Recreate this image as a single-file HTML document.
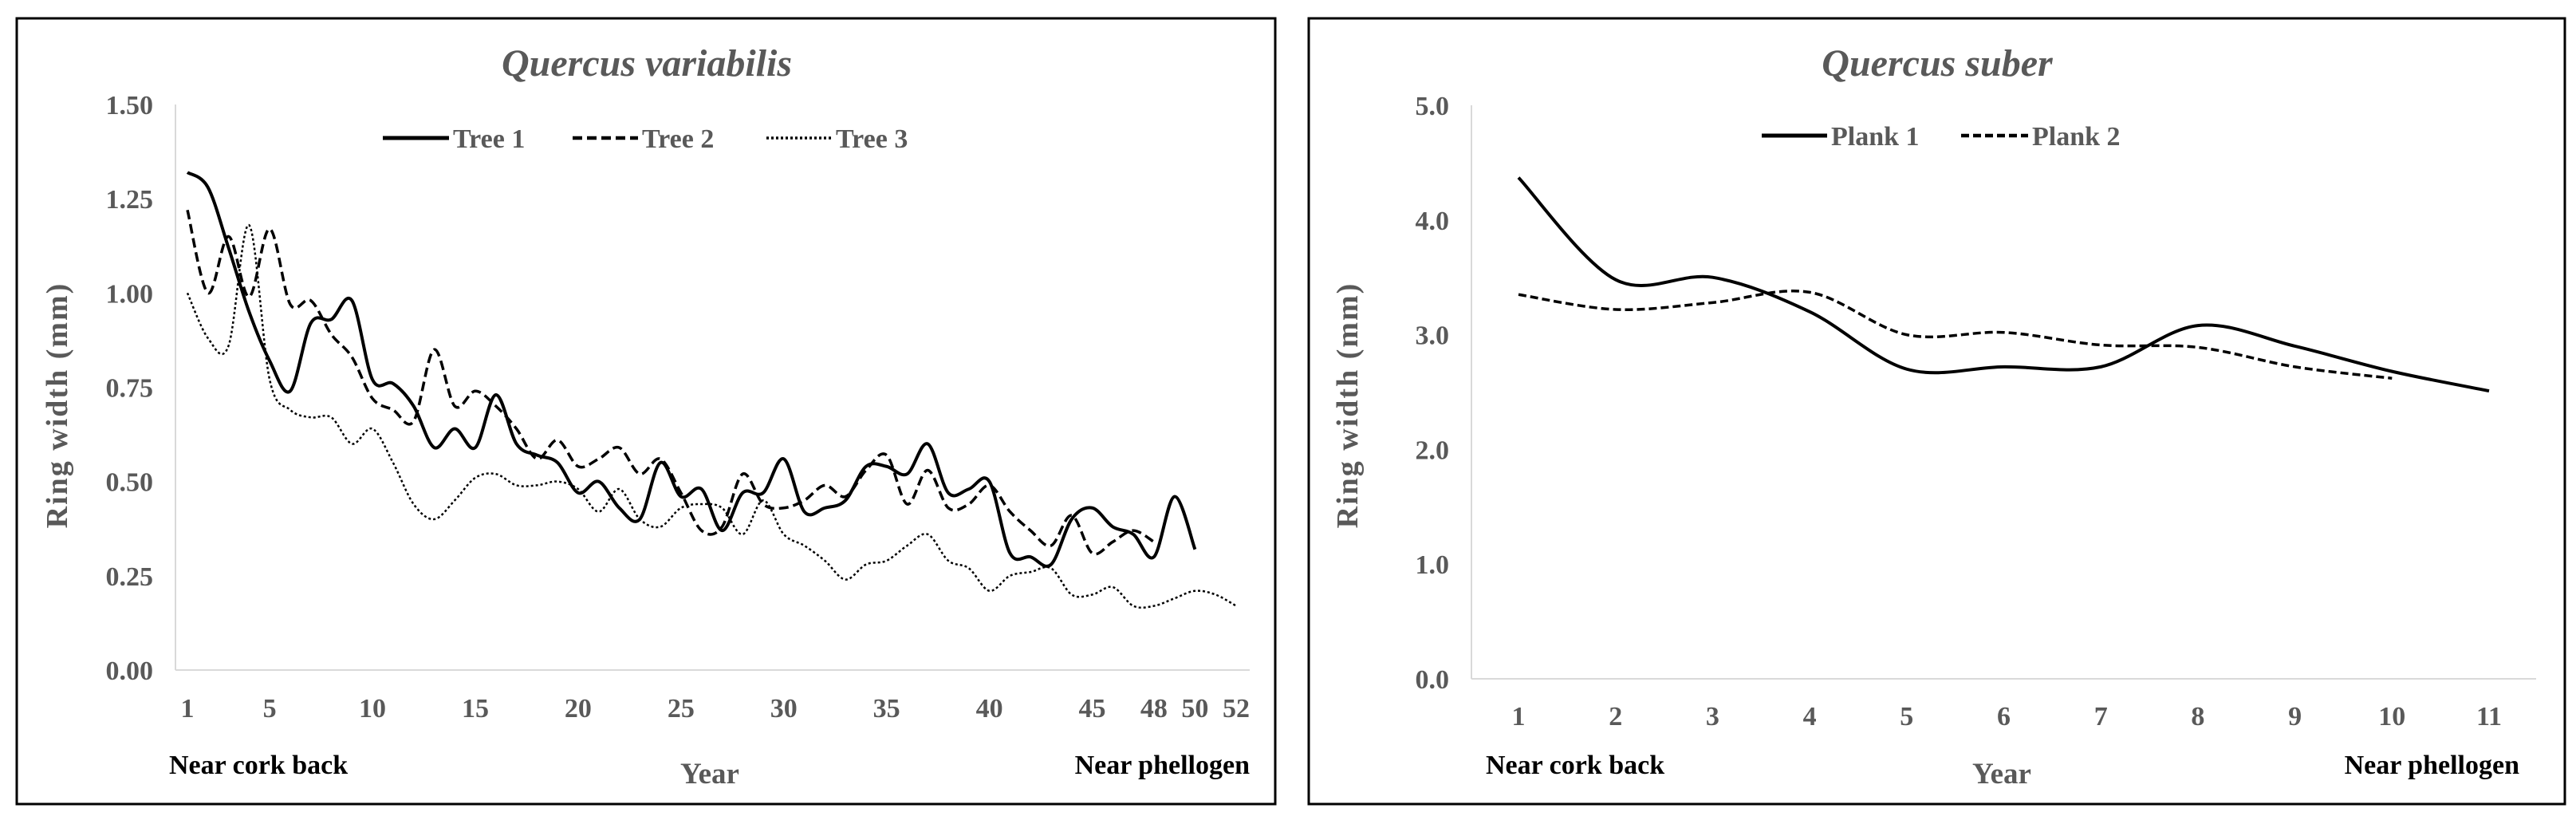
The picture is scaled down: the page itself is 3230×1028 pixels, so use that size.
<!DOCTYPE html>
<html><head><meta charset="utf-8"><style>
body{margin:0;background:#fff;}
svg text{font-family:"Liberation Serif",serif;fill:#595959;}
</style></head><body>
<svg width="3230" height="1023" viewBox="0 0 3230 1023" xmlns="http://www.w3.org/2000/svg">
<rect x="21" y="23" width="1578" height="985" fill="none" stroke="#000" stroke-width="3"/>
<rect x="1641" y="23" width="1575" height="985" fill="none" stroke="#000" stroke-width="3"/>
<g id="L"></g>
<g id="R"></g>
</svg>
<script>
const leftYTicks=["0.00","0.25","0.50","0.75","1.00","1.25","1.50"];
const leftYVals=[0,0.25,0.5,0.75,1,1.25,1.5];
const leftXTicks=[1,5,10,15,20,25,30,35,40,45,48,50,52];
const tree1=[1.32,1.28,1.12,0.95,0.82,0.74,0.92,0.93,0.98,0.77,0.76,0.70,0.59,0.64,0.59,0.73,0.60,0.57,0.55,0.47,0.50,0.43,0.40,0.55,0.46,0.48,0.37,0.47,0.47,0.56,0.42,0.43,0.45,0.54,0.54,0.52,0.60,0.47,0.48,0.50,0.31,0.30,0.28,0.40,0.43,0.38,0.36,0.30,0.46,0.32];
const tree2=[1.22,1.00,1.15,0.99,1.17,0.97,0.98,0.89,0.83,0.72,0.69,0.66,0.85,0.70,0.74,0.70,0.64,0.56,0.61,0.54,0.56,0.59,0.52,0.56,0.47,0.37,0.38,0.52,0.44,0.43,0.45,0.49,0.46,0.53,0.57,0.44,0.53,0.43,0.44,0.49,0.42,0.37,0.33,0.41,0.31,0.34,0.37,0.34];
const tree3=[1.00,0.88,0.86,1.18,0.77,0.69,0.67,0.67,0.60,0.64,0.55,0.44,0.40,0.45,0.51,0.52,0.49,0.49,0.50,0.48,0.42,0.48,0.40,0.38,0.43,0.44,0.43,0.36,0.45,0.36,0.33,0.29,0.24,0.28,0.29,0.33,0.36,0.29,0.27,0.21,0.25,0.26,0.27,0.20,0.20,0.22,0.17,0.17,0.19,0.21,0.20,0.17];
const rightYTicks=["0.0","1.0","2.0","3.0","4.0","5.0"];
const rightYVals=[0,1,2,3,4,5];
const rightXTicks=[1,2,3,4,5,6,7,8,9,10,11];
const plank1=[4.37,3.48,3.50,3.20,2.70,2.72,2.72,3.08,2.90,2.68,2.51];
const plank2=[3.35,3.22,3.28,3.37,3.00,3.02,2.91,2.89,2.72,2.62];
const NS="http://www.w3.org/2000/svg";
function mk(parent,tag,attrs,txt){const e=document.createElementNS(NS,tag);for(const k in attrs)e.setAttribute(k,attrs[k]);if(txt!==undefined)e.textContent=txt;parent.appendChild(e);return e;}
function smooth(pts){let d="M"+pts[0][0]+","+pts[0][1];for(let i=0;i<pts.length-1;i++){const p0=pts[i-1]||pts[i],p1=pts[i],p2=pts[i+1],p3=pts[i+2]||p2;const t=6;d+=" C"+(p1[0]+(p2[0]-p0[0])/t)+","+(p1[1]+(p2[1]-p0[1])/t)+" "+(p2[0]-(p3[0]-p1[0])/t)+","+(p2[1]-(p3[1]-p1[1])/t)+" "+p2[0]+","+p2[1];}return d;}
function chart(g,c){
 const x=i=>c.x1+(i-1)*(c.xN-c.x1)/(c.nCat-1);
 const y=v=>c.y0-(v/c.ymax)*(c.y0-c.yTop);
 let e;
 e=mk(g,"line",{x1:c.axL,x2:c.axL,y1:c.yTop,y2:c.y0,stroke:"#d9d9d9","stroke-width":2});
 
 e=mk(g,"line",{x1:c.axL,x2:c.axR,y1:c.y0,y2:c.y0,stroke:"#d9d9d9","stroke-width":2});
 
 c.yVals.forEach((v,i)=>{e=mk(g,"text",{x:c.axL-28,y:y(v)+12,"text-anchor":"end","font-size":34,"font-weight":"bold"},c.yTicks[i]);
  });
 c.xTicks.forEach(t=>{e=mk(g,"text",{x:x(t),y:c.xLabY,"text-anchor":"middle","font-size":34,"font-weight":"bold"},String(t));
  });
 c.series.forEach(s=>{const pts=s.data.map((v,i)=>[x(i+1),y(v)]);
  e=mk(g,"path",{d:smooth(pts),fill:"none",stroke:"#000","stroke-width":s.w,"stroke-dasharray":s.dash,"stroke-linejoin":"round"});
  
  e=mk(g,"line",{x1:s.lx1,x2:s.lx2,y1:c.legY,y2:c.legY,stroke:"#000","stroke-width":s.w+1,"stroke-dasharray":s.dash});
  
  e=mk(g,"text",{x:s.lx2+5,y:c.legY+12,"font-size":34,"font-weight":"bold"},s.label);
  });
 e=mk(g,"text",{x:c.titleX,y:95,"text-anchor":"middle","font-size":48,"font-weight":"bold","font-style":"italic"},c.title);
 
 e=mk(g,"text",{x:c.yLabX,y:508,"text-anchor":"middle","font-size":38,"font-weight":"bold",transform:"rotate(-90 "+c.yLabX+" 508)","letter-spacing":"2"},"Ring width (mm)");
 
 e=mk(g,"text",{x:c.nearL,y:970,"font-size":34,"font-weight":"bold",style:"fill:#000"},"Near cork back");
 
 e=mk(g,"text",{x:c.yearX,y:982,"text-anchor":"middle","font-size":37,"font-weight":"bold"},"Year");
 
 e=mk(g,"text",{x:c.nearR,y:970,"text-anchor":"end","font-size":34,"font-weight":"bold",style:"fill:#000"},"Near phellogen");
 
}
chart(document.getElementById("L"),{x1:235,xN:1550,nCat:52,axL:220,axR:1567,y0:840,yTop:131,ymax:1.5,yTicks:leftYTicks,yVals:leftYVals,xTicks:leftXTicks,xLabY:899,legY:173,titleX:811,yLabX:84,nearL:212,yearX:890,nearR:1567,title:"Quercus variabilis",
 series:[{name:"tree-1",label:"Tree 1",data:tree1,w:4,dash:"",lx1:480,lx2:563},{name:"tree-2",label:"Tree 2",data:tree2,w:3.5,dash:"12 6",lx1:718,lx2:800},{name:"tree-3",label:"Tree 3",data:tree3,w:2.5,dash:"3 3",lx1:961,lx2:1043}]});
chart(document.getElementById("R"),{x1:1904,xN:3121,nCat:11,axL:1845,axR:3180,y0:851,yTop:132,ymax:5,yTicks:rightYTicks,yVals:rightYVals,xTicks:rightXTicks,xLabY:909,legY:170,titleX:2429,yLabX:1702,nearL:1863,yearX:2510,nearR:3159,title:"Quercus suber",
 series:[{name:"plank-1",label:"Plank 1",data:plank1,w:4,dash:"",lx1:2209,lx2:2291},{name:"plank-2",label:"Plank 2",data:plank2,w:3.5,dash:"10 5",lx1:2459,lx2:2543}]});
</script>
</body></html>
